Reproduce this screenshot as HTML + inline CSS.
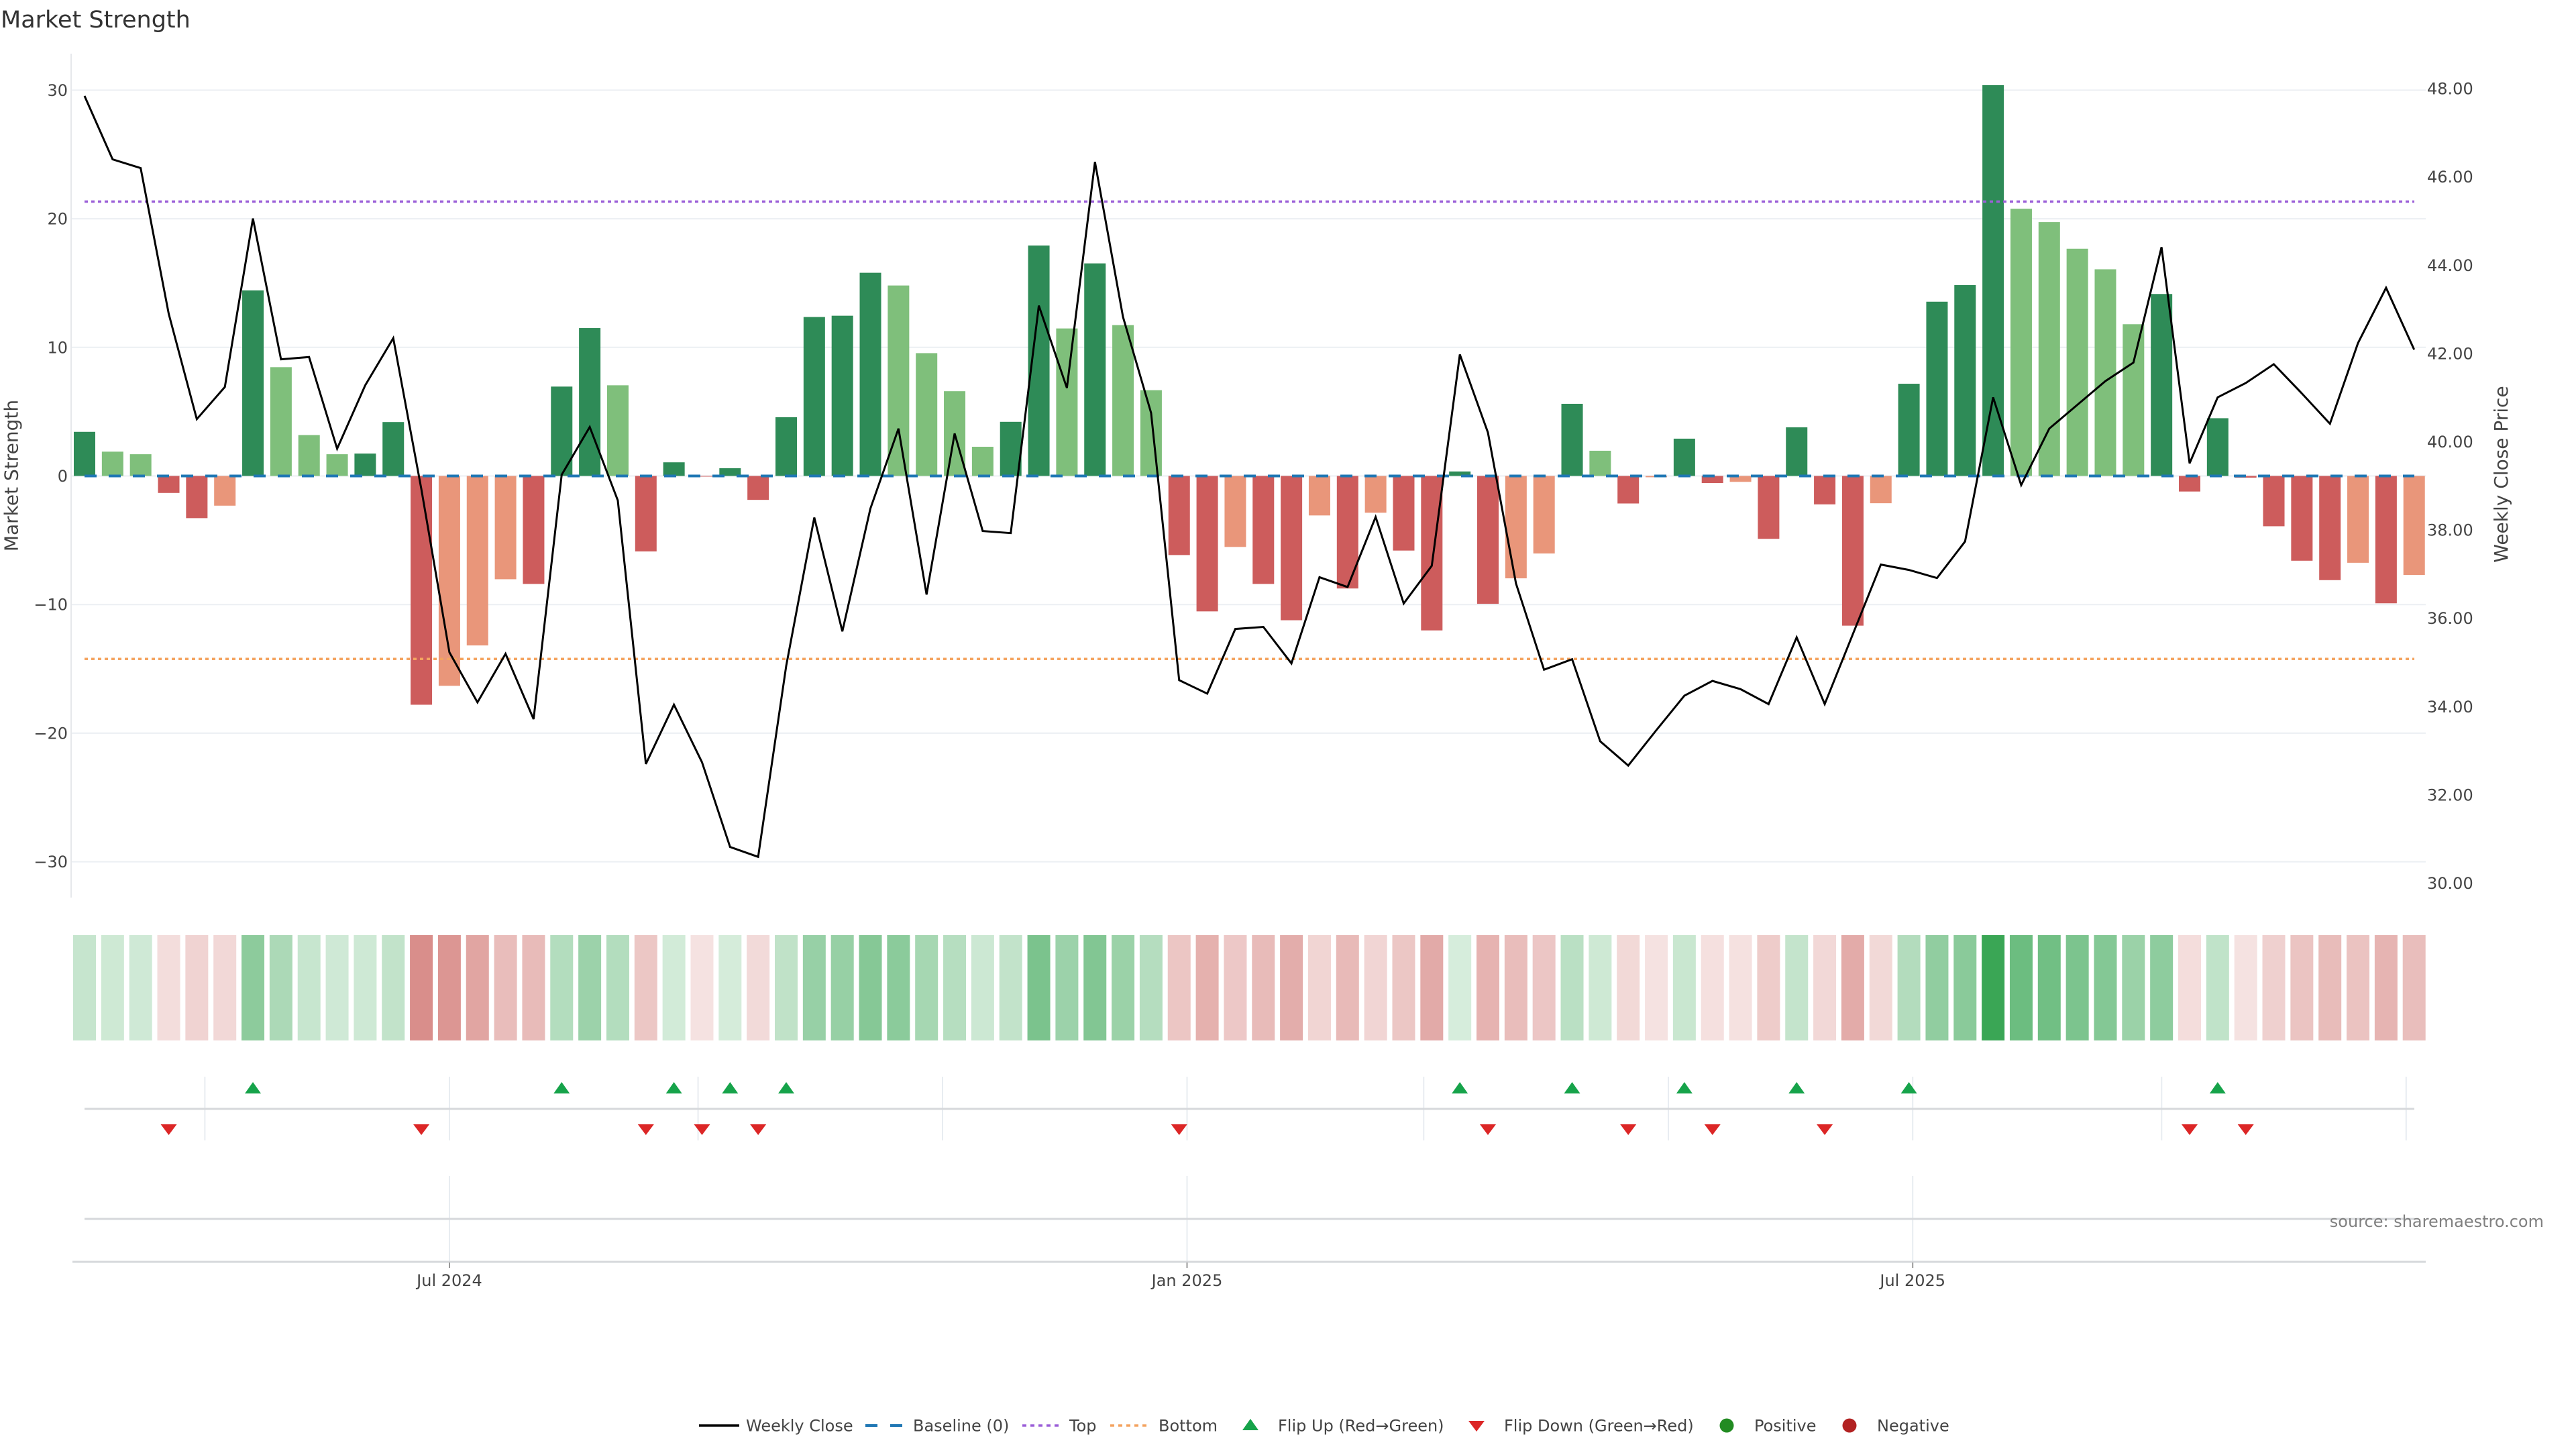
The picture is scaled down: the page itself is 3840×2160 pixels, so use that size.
<!DOCTYPE html>
<html><head><meta charset="utf-8">
<style>
html,body{margin:0;padding:0;background:#fff;}
svg{display:block}
text{font-family:"DejaVu Sans","Liberation Sans",sans-serif;fill:#444;}
.G{fill:#2e8b57}.L{fill:#7fbf7b}.R{fill:#cd5c5c}.S{fill:#e9967a}
.hg{fill:#3aa655}.hr{fill:#c5534e}
</style></head>
<body>
<svg width="3840" height="2160" viewBox="0 0 3840 2160" xmlns="http://www.w3.org/2000/svg">
<defs>
<polygon id="tu" points="-12,8 12,8 0,-9" fill="#16a34a"/>
<polygon id="td" points="-12,-8 12,-8 0,8" fill="#dc2626"/>
</defs>
<rect width="3840" height="2160" fill="#fff"/>

<!-- title -->
<text x="1" y="41" font-size="35" style="fill:#333">Market Strength</text>

<!-- gridlines -->
<g stroke="#eceff3" stroke-width="2">
<line x1="106" x2="3616" y1="134.4" y2="134.4"/>
<line x1="106" x2="3616" y1="326.1" y2="326.1"/>
<line x1="106" x2="3616" y1="517.8" y2="517.8"/>
<line x1="106" x2="3616" y1="709.5" y2="709.5"/>
<line x1="106" x2="3616" y1="901.2" y2="901.2"/>
<line x1="106" x2="3616" y1="1092.9" y2="1092.9"/>
<line x1="106" x2="3616" y1="1284.6" y2="1284.6"/>
</g>
<line x1="106" x2="106" y1="80" y2="1338" stroke="#e6e8eb" stroke-width="2"/>

<!-- left tick labels -->
<g font-size="24" text-anchor="end">
<text x="101" y="143">30</text>
<text x="101" y="334.6">20</text>
<text x="101" y="526.3">10</text>
<text x="101" y="718">0</text>
<text x="101" y="909.7">−10</text>
<text x="101" y="1101.4">−20</text>
<text x="101" y="1293.1">−30</text>
</g>
<!-- right tick labels -->
<g font-size="24">
<text x="3618" y="140.6">48.00</text>
<text x="3618" y="272.2">46.00</text>
<text x="3618" y="403.8">44.00</text>
<text x="3618" y="535.4">42.00</text>
<text x="3618" y="667">40.00</text>
<text x="3618" y="798.6">38.00</text>
<text x="3618" y="930.2">36.00</text>
<text x="3618" y="1061.8">34.00</text>
<text x="3618" y="1193.4">32.00</text>
<text x="3618" y="1325">30.00</text>
</g>
<text transform="translate(26.5,709) rotate(-90)" text-anchor="middle" font-size="28">Market Strength</text>
<text transform="translate(3738,707) rotate(-90)" text-anchor="middle" font-size="28">Weekly Close Price</text>

<!-- bars -->
<g transform="translate(126,709.5) scale(41.84,-19.17) translate(-0.3825,0)">
<rect class="G" x="0" y="0" width="0.765" height="3.43"/>
<rect class="L" x="1" y="0" width="0.765" height="1.89"/>
<rect class="L" x="2" y="0" width="0.765" height="1.69"/>
<rect class="R" x="3" y="-1.32" width="0.765" height="1.32"/>
<rect class="R" x="4" y="-3.28" width="0.765" height="3.28"/>
<rect class="S" x="5" y="-2.31" width="0.765" height="2.31"/>
<rect class="G" x="6" y="0" width="0.765" height="14.43"/>
<rect class="L" x="7" y="0" width="0.765" height="8.46"/>
<rect class="L" x="8" y="0" width="0.765" height="3.18"/>
<rect class="L" x="9" y="0" width="0.765" height="1.69"/>
<rect class="G" x="10" y="0" width="0.765" height="1.74"/>
<rect class="G" x="11" y="0" width="0.765" height="4.19"/>
<rect class="R" x="12" y="-17.79" width="0.765" height="17.79"/>
<rect class="S" x="13" y="-16.32" width="0.765" height="16.32"/>
<rect class="S" x="14" y="-13.18" width="0.765" height="13.18"/>
<rect class="S" x="15" y="-8.03" width="0.765" height="8.03"/>
<rect class="R" x="16" y="-8.4" width="0.765" height="8.4"/>
<rect class="G" x="17" y="0" width="0.765" height="6.95"/>
<rect class="G" x="18" y="0" width="0.765" height="11.5"/>
<rect class="L" x="19" y="0" width="0.765" height="7.05"/>
<rect class="R" x="20" y="-5.87" width="0.765" height="5.87"/>
<rect class="G" x="21" y="0" width="0.765" height="1.06"/>
<rect class="R" x="22" y="-0.05" width="0.765" height="0.05"/>
<rect class="G" x="23" y="0" width="0.765" height="0.6"/>
<rect class="R" x="24" y="-1.86" width="0.765" height="1.86"/>
<rect class="G" x="25" y="0" width="0.765" height="4.57"/>
<rect class="G" x="26" y="0" width="0.765" height="12.36"/>
<rect class="G" x="27" y="0" width="0.765" height="12.46"/>
<rect class="G" x="28" y="0" width="0.765" height="15.8"/>
<rect class="L" x="29" y="0" width="0.765" height="14.81"/>
<rect class="L" x="30" y="0" width="0.765" height="9.55"/>
<rect class="L" x="31" y="0" width="0.765" height="6.59"/>
<rect class="L" x="32" y="0" width="0.765" height="2.27"/>
<rect class="G" x="33" y="0" width="0.765" height="4.21"/>
<rect class="G" x="34" y="0" width="0.765" height="17.92"/>
<rect class="L" x="35" y="0" width="0.765" height="11.47"/>
<rect class="G" x="36" y="0" width="0.765" height="16.53"/>
<rect class="L" x="37" y="0" width="0.765" height="11.73"/>
<rect class="L" x="38" y="0" width="0.765" height="6.67"/>
<rect class="R" x="39" y="-6.15" width="0.765" height="6.15"/>
<rect class="R" x="40" y="-10.53" width="0.765" height="10.53"/>
<rect class="S" x="41" y="-5.52" width="0.765" height="5.52"/>
<rect class="R" x="42" y="-8.4" width="0.765" height="8.4"/>
<rect class="R" x="43" y="-11.22" width="0.765" height="11.22"/>
<rect class="S" x="44" y="-3.07" width="0.765" height="3.07"/>
<rect class="R" x="45" y="-8.75" width="0.765" height="8.75"/>
<rect class="S" x="46" y="-2.86" width="0.765" height="2.86"/>
<rect class="R" x="47" y="-5.8" width="0.765" height="5.8"/>
<rect class="R" x="48" y="-12.01" width="0.765" height="12.01"/>
<rect class="G" x="49" y="0" width="0.765" height="0.35"/>
<rect class="R" x="50" y="-9.94" width="0.765" height="9.94"/>
<rect class="S" x="51" y="-7.96" width="0.765" height="7.96"/>
<rect class="S" x="52" y="-6.03" width="0.765" height="6.03"/>
<rect class="G" x="53" y="0" width="0.765" height="5.61"/>
<rect class="L" x="54" y="0" width="0.765" height="1.96"/>
<rect class="R" x="55" y="-2.14" width="0.765" height="2.14"/>
<rect class="S" x="56" y="-0.1" width="0.765" height="0.1"/>
<rect class="G" x="57" y="0" width="0.765" height="2.9"/>
<rect class="R" x="58" y="-0.55" width="0.765" height="0.55"/>
<rect class="S" x="59" y="-0.46" width="0.765" height="0.46"/>
<rect class="R" x="60" y="-4.89" width="0.765" height="4.89"/>
<rect class="G" x="61" y="0" width="0.765" height="3.78"/>
<rect class="R" x="62" y="-2.21" width="0.765" height="2.21"/>
<rect class="R" x="63" y="-11.64" width="0.765" height="11.64"/>
<rect class="S" x="64" y="-2.12" width="0.765" height="2.12"/>
<rect class="G" x="65" y="0" width="0.765" height="7.17"/>
<rect class="G" x="66" y="0" width="0.765" height="13.55"/>
<rect class="G" x="67" y="0" width="0.765" height="14.84"/>
<rect class="G" x="68" y="0" width="0.765" height="30.39"/>
<rect class="L" x="69" y="0" width="0.765" height="20.78"/>
<rect class="L" x="70" y="0" width="0.765" height="19.74"/>
<rect class="L" x="71" y="0" width="0.765" height="17.67"/>
<rect class="L" x="72" y="0" width="0.765" height="16.07"/>
<rect class="L" x="73" y="0" width="0.765" height="11.8"/>
<rect class="G" x="74" y="0" width="0.765" height="14.15"/>
<rect class="R" x="75" y="-1.21" width="0.765" height="1.21"/>
<rect class="G" x="76" y="0" width="0.765" height="4.49"/>
<rect class="R" x="77" y="-0.13" width="0.765" height="0.13"/>
<rect class="R" x="78" y="-3.91" width="0.765" height="3.91"/>
<rect class="R" x="79" y="-6.59" width="0.765" height="6.59"/>
<rect class="R" x="80" y="-8.1" width="0.765" height="8.1"/>
<rect class="S" x="81" y="-6.75" width="0.765" height="6.75"/>
<rect class="R" x="82" y="-9.9" width="0.765" height="9.9"/>
<rect class="S" x="83" y="-7.7" width="0.765" height="7.7"/>
</g>

<!-- reference lines -->
<line x1="126" x2="3599" y1="709.5" y2="709.5" stroke="#1f77b4" stroke-width="4" stroke-dasharray="18 18"/>
<line x1="126" x2="3599" y1="300.5" y2="300.5" stroke="#9b5fd8" stroke-width="3.5" stroke-dasharray="5 5"/>
<line x1="126" x2="3599" y1="982.2" y2="982.2" stroke="#f4a460" stroke-width="3.5" stroke-dasharray="5 5"/>

<!-- weekly close line -->
<g transform="translate(126,0) scale(41.84,1)">
<polyline fill="none" stroke="#000" stroke-width="3" vector-effect="non-scaling-stroke" stroke-linejoin="miter" stroke-miterlimit="3"
points="0,143 1,237.5 2,250.6 3,467.8 4,624.8 5,576.8 6,325.7 7,535.6 8,532.2 9,668.9 10,574.4 11,504.1 12,729 13,972.4 14,1047 15,974.6 16,1072 17,707.7 18,636.5 19,746 20,1138.9 21,1050.5 22,1136.3 23,1262.6 24,1277.3 25,992.5 26,771.5 27,941.2 28,758 29,638.9 30,886.3 31,646.2 32,791.6 33,794.7 34,455.6 35,578.3 36,241.4 37,472.6 38,615.6 39,1013.9 40,1034 41,937.6 42,934.5 43,988.9 44,860.4 45,875.1 46,770.6 47,899.6 48,843.4 49,528.4 50,644.7 51,869.7 52,998.3 53,982.7 54,1105 55,1141.2 56,1088.5 57,1037.1 58,1015 59,1027.3 60,1049.6 61,950.1 62,1049.6 63,945.6 64,841.6 65,849.6 66,861.7 67,807.2 68,592.3 69,723.2 70,638.9 71,603.5 72,568.1 73,540.5 74,368.4 75,690.7 76,592.3 77,571 78,542.9 79,586.5 80,631.6 81,511.4 82,429 83,521.1"/>
</g>

<!-- heat strip -->
<g transform="translate(126,0) scale(41.84,1) translate(-0.4063,0)">
<rect class="hg" x="0" y="1394" width="0.8126" height="157" fill-opacity="0.29"/>
<rect class="hg" x="1" y="1394" width="0.8126" height="157" fill-opacity="0.25"/>
<rect class="hg" x="2" y="1394" width="0.8126" height="157" fill-opacity="0.245"/>
<rect class="hr" x="3" y="1394" width="0.8126" height="157" fill-opacity="0.2"/>
<rect class="hr" x="4" y="1394" width="0.8126" height="157" fill-opacity="0.255"/>
<rect class="hr" x="5" y="1394" width="0.8126" height="157" fill-opacity="0.228"/>
<rect class="hg" x="6" y="1394" width="0.8126" height="157" fill-opacity="0.58"/>
<rect class="hg" x="7" y="1394" width="0.8126" height="157" fill-opacity="0.423"/>
<rect class="hg" x="8" y="1394" width="0.8126" height="157" fill-opacity="0.284"/>
<rect class="hg" x="9" y="1394" width="0.8126" height="157" fill-opacity="0.245"/>
<rect class="hg" x="10" y="1394" width="0.8126" height="157" fill-opacity="0.246"/>
<rect class="hg" x="11" y="1394" width="0.8126" height="157" fill-opacity="0.31"/>
<rect class="hr" x="12" y="1394" width="0.8126" height="157" fill-opacity="0.654"/>
<rect class="hr" x="13" y="1394" width="0.8126" height="157" fill-opacity="0.613"/>
<rect class="hr" x="14" y="1394" width="0.8126" height="157" fill-opacity="0.527"/>
<rect class="hr" x="15" y="1394" width="0.8126" height="157" fill-opacity="0.386"/>
<rect class="hr" x="16" y="1394" width="0.8126" height="157" fill-opacity="0.396"/>
<rect class="hg" x="17" y="1394" width="0.8126" height="157" fill-opacity="0.383"/>
<rect class="hg" x="18" y="1394" width="0.8126" height="157" fill-opacity="0.503"/>
<rect class="hg" x="19" y="1394" width="0.8126" height="157" fill-opacity="0.386"/>
<rect class="hr" x="20" y="1394" width="0.8126" height="157" fill-opacity="0.326"/>
<rect class="hg" x="21" y="1394" width="0.8126" height="157" fill-opacity="0.228"/>
<rect class="hr" x="22" y="1394" width="0.8126" height="157" fill-opacity="0.168"/>
<rect class="hg" x="23" y="1394" width="0.8126" height="157" fill-opacity="0.216"/>
<rect class="hr" x="24" y="1394" width="0.8126" height="157" fill-opacity="0.216"/>
<rect class="hg" x="25" y="1394" width="0.8126" height="157" fill-opacity="0.32"/>
<rect class="hg" x="26" y="1394" width="0.8126" height="157" fill-opacity="0.525"/>
<rect class="hg" x="27" y="1394" width="0.8126" height="157" fill-opacity="0.528"/>
<rect class="hg" x="28" y="1394" width="0.8126" height="157" fill-opacity="0.616"/>
<rect class="hg" x="29" y="1394" width="0.8126" height="157" fill-opacity="0.59"/>
<rect class="hg" x="30" y="1394" width="0.8126" height="157" fill-opacity="0.451"/>
<rect class="hg" x="31" y="1394" width="0.8126" height="157" fill-opacity="0.374"/>
<rect class="hg" x="32" y="1394" width="0.8126" height="157" fill-opacity="0.26"/>
<rect class="hg" x="33" y="1394" width="0.8126" height="157" fill-opacity="0.311"/>
<rect class="hg" x="34" y="1394" width="0.8126" height="157" fill-opacity="0.672"/>
<rect class="hg" x="35" y="1394" width="0.8126" height="157" fill-opacity="0.502"/>
<rect class="hg" x="36" y="1394" width="0.8126" height="157" fill-opacity="0.635"/>
<rect class="hg" x="37" y="1394" width="0.8126" height="157" fill-opacity="0.509"/>
<rect class="hg" x="38" y="1394" width="0.8126" height="157" fill-opacity="0.376"/>
<rect class="hr" x="39" y="1394" width="0.8126" height="157" fill-opacity="0.334"/>
<rect class="hr" x="40" y="1394" width="0.8126" height="157" fill-opacity="0.454"/>
<rect class="hr" x="41" y="1394" width="0.8126" height="157" fill-opacity="0.317"/>
<rect class="hr" x="42" y="1394" width="0.8126" height="157" fill-opacity="0.396"/>
<rect class="hr" x="43" y="1394" width="0.8126" height="157" fill-opacity="0.473"/>
<rect class="hr" x="44" y="1394" width="0.8126" height="157" fill-opacity="0.249"/>
<rect class="hr" x="45" y="1394" width="0.8126" height="157" fill-opacity="0.405"/>
<rect class="hr" x="46" y="1394" width="0.8126" height="157" fill-opacity="0.244"/>
<rect class="hr" x="47" y="1394" width="0.8126" height="157" fill-opacity="0.324"/>
<rect class="hr" x="48" y="1394" width="0.8126" height="157" fill-opacity="0.495"/>
<rect class="hg" x="49" y="1394" width="0.8126" height="157" fill-opacity="0.209"/>
<rect class="hr" x="50" y="1394" width="0.8126" height="157" fill-opacity="0.438"/>
<rect class="hr" x="51" y="1394" width="0.8126" height="157" fill-opacity="0.384"/>
<rect class="hr" x="52" y="1394" width="0.8126" height="157" fill-opacity="0.331"/>
<rect class="hg" x="53" y="1394" width="0.8126" height="157" fill-opacity="0.348"/>
<rect class="hg" x="54" y="1394" width="0.8126" height="157" fill-opacity="0.252"/>
<rect class="hr" x="55" y="1394" width="0.8126" height="157" fill-opacity="0.224"/>
<rect class="hr" x="56" y="1394" width="0.8126" height="157" fill-opacity="0.168"/>
<rect class="hg" x="57" y="1394" width="0.8126" height="157" fill-opacity="0.276"/>
<rect class="hr" x="58" y="1394" width="0.8126" height="157" fill-opacity="0.18"/>
<rect class="hr" x="59" y="1394" width="0.8126" height="157" fill-opacity="0.178"/>
<rect class="hr" x="60" y="1394" width="0.8126" height="157" fill-opacity="0.299"/>
<rect class="hg" x="61" y="1394" width="0.8126" height="157" fill-opacity="0.3"/>
<rect class="hr" x="62" y="1394" width="0.8126" height="157" fill-opacity="0.226"/>
<rect class="hr" x="63" y="1394" width="0.8126" height="157" fill-opacity="0.485"/>
<rect class="hr" x="64" y="1394" width="0.8126" height="157" fill-opacity="0.223"/>
<rect class="hg" x="65" y="1394" width="0.8126" height="157" fill-opacity="0.389"/>
<rect class="hg" x="66" y="1394" width="0.8126" height="157" fill-opacity="0.557"/>
<rect class="hg" x="67" y="1394" width="0.8126" height="157" fill-opacity="0.591"/>
<rect class="hg" x="68" y="1394" width="0.8126" height="157" fill-opacity="1"/>
<rect class="hg" x="69" y="1394" width="0.8126" height="157" fill-opacity="0.747"/>
<rect class="hg" x="70" y="1394" width="0.8126" height="157" fill-opacity="0.72"/>
<rect class="hg" x="71" y="1394" width="0.8126" height="157" fill-opacity="0.665"/>
<rect class="hg" x="72" y="1394" width="0.8126" height="157" fill-opacity="0.623"/>
<rect class="hg" x="73" y="1394" width="0.8126" height="157" fill-opacity="0.511"/>
<rect class="hg" x="74" y="1394" width="0.8126" height="157" fill-opacity="0.573"/>
<rect class="hr" x="75" y="1394" width="0.8126" height="157" fill-opacity="0.198"/>
<rect class="hg" x="76" y="1394" width="0.8126" height="157" fill-opacity="0.318"/>
<rect class="hr" x="77" y="1394" width="0.8126" height="157" fill-opacity="0.169"/>
<rect class="hr" x="78" y="1394" width="0.8126" height="157" fill-opacity="0.272"/>
<rect class="hr" x="79" y="1394" width="0.8126" height="157" fill-opacity="0.346"/>
<rect class="hr" x="80" y="1394" width="0.8126" height="157" fill-opacity="0.388"/>
<rect class="hr" x="81" y="1394" width="0.8126" height="157" fill-opacity="0.35"/>
<rect class="hr" x="82" y="1394" width="0.8126" height="157" fill-opacity="0.437"/>
<rect class="hr" x="83" y="1394" width="0.8126" height="157" fill-opacity="0.377"/>
</g>

<!-- marker panel -->
<g stroke="#e8ecf1" stroke-width="2">
<line x1="305.4" x2="305.4" y1="1605" y2="1700"/>
<line x1="670" x2="670" y1="1605" y2="1700"/>
<line x1="1040.6" x2="1040.6" y1="1605" y2="1700"/>
<line x1="1405" x2="1405" y1="1605" y2="1700"/>
<line x1="1769.5" x2="1769.5" y1="1605" y2="1700"/>
<line x1="2122.3" x2="2122.3" y1="1605" y2="1700"/>
<line x1="2487" x2="2487" y1="1605" y2="1700"/>
<line x1="2851.2" x2="2851.2" y1="1605" y2="1700"/>
<line x1="3222.3" x2="3222.3" y1="1605" y2="1700"/>
<line x1="3586.8" x2="3586.8" y1="1605" y2="1700"/>
</g>
<line x1="126" x2="3599" y1="1653" y2="1653" stroke="#d6d8db" stroke-width="3"/>
<use href="#tu" x="377.04" y="1622"/>
<use href="#tu" x="837.28" y="1622"/>
<use href="#tu" x="1004.64" y="1622"/>
<use href="#tu" x="1088.32" y="1622"/>
<use href="#tu" x="1172" y="1622"/>
<use href="#tu" x="2176.16" y="1622"/>
<use href="#tu" x="2343.52" y="1622"/>
<use href="#tu" x="2510.88" y="1622"/>
<use href="#tu" x="2678.24" y="1622"/>
<use href="#tu" x="2845.6" y="1622"/>
<use href="#tu" x="3305.84" y="1622"/>
<use href="#td" x="251.52" y="1684"/>
<use href="#td" x="628.08" y="1684"/>
<use href="#td" x="962.8" y="1684"/>
<use href="#td" x="1046.48" y="1684"/>
<use href="#td" x="1130.16" y="1684"/>
<use href="#td" x="1757.76" y="1684"/>
<use href="#td" x="2218" y="1684"/>
<use href="#td" x="2427.2" y="1684"/>
<use href="#td" x="2552.72" y="1684"/>
<use href="#td" x="2720.08" y="1684"/>
<use href="#td" x="3264" y="1684"/>
<use href="#td" x="3347.68" y="1684"/>

<!-- lower panel -->
<g stroke="#e8ecf1" stroke-width="2">
<line x1="670" x2="670" y1="1753" y2="1881"/>
<line x1="1769.5" x2="1769.5" y1="1753" y2="1881"/>
<line x1="2851.2" x2="2851.2" y1="1753" y2="1881"/>
</g>
<line x1="126" x2="3599" y1="1817" y2="1817" stroke="#d6d8db" stroke-width="3"/>
<line x1="108" x2="3616" y1="1881" y2="1881" stroke="#d6d8db" stroke-width="3"/>
<g stroke="#999" stroke-width="2">
<line x1="670" x2="670" y1="1882" y2="1890"/>
<line x1="1769.5" x2="1769.5" y1="1882" y2="1890"/>
<line x1="2851.2" x2="2851.2" y1="1882" y2="1890"/>
</g>
<g font-size="24" text-anchor="middle">
<text x="670" y="1917">Jul 2024</text>
<text x="1769.5" y="1917">Jan 2025</text>
<text x="2851.2" y="1917">Jul 2025</text>
</g>
<text x="3792" y="1829" font-size="24" text-anchor="end" style="fill:#808080">source: sharemaestro.com</text>

<!-- legend -->
<g font-size="24">
<line x1="1042" x2="1102" y1="2125" y2="2125" stroke="#000" stroke-width="3.5"/>
<text x="1112" y="2133.5">Weekly Close</text>
<line x1="1290" x2="1346" y1="2125" y2="2125" stroke="#1f77b4" stroke-width="4" stroke-dasharray="18 19"/>
<text x="1361" y="2133.5">Baseline (0)</text>
<line x1="1524" x2="1579" y1="2125" y2="2125" stroke="#9b5fd8" stroke-width="3.5" stroke-dasharray="6 6"/>
<text x="1594" y="2133.5">Top</text>
<line x1="1655" x2="1710" y1="2125" y2="2125" stroke="#f4a460" stroke-width="3.5" stroke-dasharray="6 6"/>
<text x="1727" y="2133.5">Bottom</text>
<use href="#tu" x="1864" y="2124"/>
<text x="1905" y="2133.5">Flip Up (Red→Green)</text>
<use href="#td" x="2201" y="2126"/>
<text x="2242" y="2133.5">Flip Down (Green→Red)</text>
<circle cx="2574" cy="2125" r="10.5" fill="#228b22"/>
<text x="2615" y="2133.5">Positive</text>
<circle cx="2757" cy="2125" r="10.5" fill="#b22222"/>
<text x="2798" y="2133.5">Negative</text>
</g>
</svg>
</body></html>
